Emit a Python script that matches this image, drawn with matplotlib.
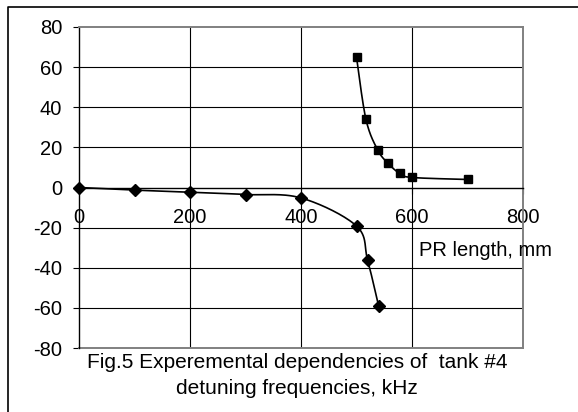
import numpy as np
import matplotlib
matplotlib.use("Agg")
import matplotlib.pyplot as plt
from matplotlib.lines import Line2D

# ---- data ----
len_diamond = [0, 100, 200, 300, 400, 500, 520, 540]
freq_diamond = [0, -1.3, -2.3, -3.5, -5.2, -19.2, -36.2, -59.2]
len_square = [500, 517, 538, 557, 578, 600, 700]
freq_square = [65, 34, 18.8, 12, 7, 5, 4]
x_ticks = [0, 200, 400, 600, 800]
y_ticks = [-80, -60, -40, -20, 0, 20, 40, 60, 80]
x_label = "PR length, mm"
caption1 = "Fig.5 Experemental dependencies of  tank #4"
caption2 = "detuning frequencies, kHz"

plt.rcParams['font.family'] = ['Liberation Sans', 'DejaVu Sans']

W, H = 578, 412
fig = plt.figure(figsize=(W / 100, H / 100), dpi=100)
ax = fig.add_axes([79 / W, 1 - 348 / H, 444 / W, 321 / H])
ax.set_xlim(0, 800)
ax.set_ylim(-80, 80)

# scale factors (pixels per data unit) for smoothing in screen space
sx = 444 / 800
sy = 321 / 160


def smooth(xs, ys, n=30):
    px = np.asarray(xs, float) * sx
    py = np.asarray(ys, float) * sy
    P = np.column_stack([px, py])
    out = []
    m = len(P)
    for i in range(m - 1):
        p0 = P[i - 1] if i > 0 else P[i]
        p1 = P[i]
        p2 = P[i + 1]
        p3 = P[i + 2] if i + 2 < m else P[i + 1]
        c1 = p1 + (p2 - p0) / 6.0
        c2 = p2 - (p3 - p1) / 6.0
        t = np.linspace(0, 1, n)[:, None]
        seg = ((1 - t) ** 3) * p1 + 3 * ((1 - t) ** 2) * t * c1 + 3 * (1 - t) * t ** 2 * c2 + t ** 3 * p2
        out.append(seg if i == 0 else seg[1:])
    S = np.vstack(out)
    return S[:, 0] / sx, S[:, 1] / sy


# grid lines
for yv in y_ticks:
    if -80 < yv < 80 and yv != 0:
        ax.axhline(yv, color='black', lw=0.8, zorder=1)
for xv in x_ticks:
    if 0 < xv < 800:
        ax.axvline(xv, color='black', lw=0.8, zorder=1)

# frame
gray = '#808080'
for s in ['top', 'right']:
    ax.spines[s].set_color(gray)
    ax.spines[s].set_linewidth(1.4)
ax.axhline(-80, color=gray, lw=1.4, zorder=2, clip_on=False)
ax.spines['left'].set_color('black')
ax.spines['left'].set_linewidth(1.0)
ax.spines['bottom'].set_position(('data', 0))
ax.spines['bottom'].set_color('black')
ax.spines['bottom'].set_linewidth(1.0)

ax.set_xticks(x_ticks)
ax.set_yticks(y_ticks)
ax.set_xticklabels([str(v) for v in x_ticks])
ax.set_yticklabels([str(v) for v in y_ticks])
ax.tick_params(axis='x', direction='out', length=4, width=0.8, pad=11, labelsize=14.5)
ax.tick_params(axis='y', direction='out', length=4, width=0.8, pad=8, labelsize=14.5)

# curves
xs1, ys1 = smooth(len_diamond, freq_diamond)
ax.plot(xs1, ys1, color='black', lw=1.2, zorder=3, clip_on=False)
ax.plot(len_diamond, freq_diamond, linestyle='none', marker='D', ms=6, color='black', zorder=4, clip_on=False)
xs2, ys2 = smooth(len_square, freq_square)
ax.plot(xs2, ys2, color='black', lw=1.2, zorder=3, clip_on=False)
ax.plot(len_square, freq_square, linestyle='none', marker='s', ms=6.3, color='black', zorder=4, clip_on=False)

# texts
fig.text(419 / W, 1 - 250 / H, x_label, fontsize=14.5, va='center', ha='left')
fig.text(297 / W, 1 - 362 / H, caption1, fontsize=15, va='center', ha='center')
fig.text(297 / W, 1 - 388 / H, caption2, fontsize=15, va='center', ha='center')

# outer border (left and top)
fig.add_artist(Line2D([7.5 / W, 7.5 / W, 1.0], [0.0, 1 - 6.5 / H, 1 - 6.5 / H],
                      transform=fig.transFigure, color='black', lw=1.2))

fig.savefig("out.png", dpi=100, facecolor='white')
